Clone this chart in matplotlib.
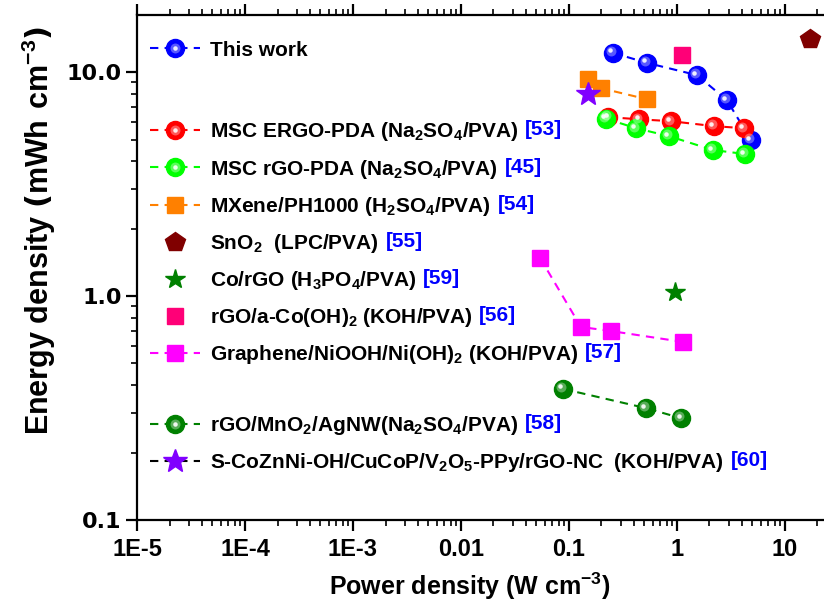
import matplotlib
matplotlib.use("Agg")
import matplotlib.pyplot as plt
from matplotlib.lines import Line2D
from matplotlib.legend_handler import HandlerTuple
from matplotlib.transforms import offset_copy

plt.rcParams['font.family'] = ['Liberation Sans', 'DejaVu Sans']
plt.rcParams['font.weight'] = 'bold'

# power density (W cm-3), energy density (mWh cm-3)
this_work_p = [0.255, 0.527, 1.53, 2.9, 4.84]
this_work_e = [12.2, 11.0, 9.7, 7.5, 4.97]

ergo_p = [0.23, 0.445, 0.88, 2.2, 4.17]
ergo_e = [6.3, 6.16, 6.04, 5.74, 5.62]

rgo_pda_p = [0.22, 0.417, 0.843, 2.15, 4.26]
rgo_pda_e = [6.2, 5.62, 5.18, 4.49, 4.31]

mxene_p = [0.15, 0.198, 0.527]
mxene_e = [9.3, 8.48, 7.57]

sno2_p = [17.0]
sno2_e = [14.0]

co_rgo_p = [0.955]
co_rgo_e = [1.04]

co_oh_p = [1.11]
co_oh_e = [11.9]

niooh_p = [0.054, 0.129, 0.245, 1.14]
niooh_e = [1.48, 0.728, 0.698, 0.624]

mno2_p = [0.088, 0.516, 1.09]
mno2_e = [0.385, 0.316, 0.285]

cozn_p = [0.15]
cozn_e = [7.98]

labels = [
    'This work',
    'MSC ERGO-PDA (Na$\\mathregular{_2}$SO$\\mathregular{_4}$/PVA)',
    'MSC rGO-PDA (Na$\\mathregular{_2}$SO$\\mathregular{_4}$/PVA)',
    'MXene/PH1000 (H$\\mathregular{_2}$SO$\\mathregular{_4}$/PVA)',
    'SnO$\\mathregular{_2}$  (LPC/PVA)',
    'Co/rGO (H$\\mathregular{_3}$PO$\\mathregular{_4}$/PVA)',
    'rGO/a-Co(OH)$\\mathregular{_2}$ (KOH/PVA)',
    'Graphene/NiOOH/Ni(OH)$\\mathregular{_2}$ (KOH/PVA)',
    'rGO/MnO$\\mathregular{_2}$/AgNW(Na$\\mathregular{_2}$SO$\\mathregular{_4}$/PVA)',
    'S-CoZnNi-OH/CuCoP/V$\\mathregular{_2}$O$\\mathregular{_5}$-PPy/rGO-NC  (KOH/PVA)',
]
refs = ['', '[53]', '[45]', '[54]', '[55]', '[59]', '[56]', '[57]', '[58]', '[60]']

xticks = [1e-5, 1e-4, 1e-3, 0.01, 0.1, 1, 10]
xticklabels = ['1E-5', '1E-4', '1E-3', '0.01', '0.1', '1', '10']
yticks = [0.1, 1, 10]
yticklabels = ['0.1', '1.0', '10.0']

W, H = 824, 602
fig = plt.figure(figsize=(W / 100, H / 100), dpi=100)
ax = fig.add_axes([137 / W, 82 / H, 699.5 / W, 505 / H])
ax.set_xscale('log')
ax.set_yscale('log')
ax.set_xlim(1e-5, 30)
ax.set_ylim(0.1, 18)

dash = (0, (4, 3))
lw = 1.5


def ball(x, y, color, ms=13):
    """Shaded sphere markers: base disc plus a highlight spot."""
    base, = ax.plot(x, y, linestyle=dash, lw=lw, color=color, marker='o',
                    ms=ms, mec=color, mfc=color, zorder=3)
    glow_tr = offset_copy(ax.transData, fig=fig, x=-1.2, y=1.2, units='points')
    ax.plot(x, y, linestyle='none', marker='o', ms=ms * 0.55, mfc='white',
            mec='none', alpha=0.35, transform=glow_tr, zorder=4)
    spot_tr = offset_copy(ax.transData, fig=fig, x=-1.8, y=1.8, units='points')
    ax.plot(x, y, linestyle='none', marker='o', ms=ms * 0.25, mfc='white',
            mec='none', alpha=0.9, transform=spot_tr, zorder=4)
    glow = Line2D([], [], linestyle='none', marker='o', ms=ms * 0.55,
                  mfc='white', mec='none', alpha=0.35)
    spot = Line2D([], [], linestyle='none', marker='o', ms=ms * 0.25,
                  mfc='white', mec='none', alpha=0.9)
    return (base, glow, spot)


h_this = ball(this_work_p, this_work_e, '#0000ff')
h_ergo = ball(ergo_p, ergo_e, '#ff0000')
h_rgo = ball(rgo_pda_p, rgo_pda_e, '#00ff00')
h_mx, = ax.plot(mxene_p, mxene_e, linestyle=dash, lw=lw, color='#ff8000',
                marker='s', ms=11.5, zorder=3)
h_sno, = ax.plot(sno2_p, sno2_e, linestyle='none', color='#800000',
                 marker='p', ms=15, zorder=3)
h_co, = ax.plot(co_rgo_p, co_rgo_e, linestyle='none', color='#008000',
                marker='*', ms=15, zorder=3)
h_cooh, = ax.plot(co_oh_p, co_oh_e, linestyle='none', color='#ff0077',
                  marker='s', ms=11.5, zorder=3)
h_ni, = ax.plot(niooh_p, niooh_e, linestyle=dash, lw=lw, color='#ff00ff',
                marker='s', ms=11.5, zorder=3)
h_mn = ball(mno2_p, mno2_e, '#008000')
h_cz, = ax.plot(cozn_p, cozn_e, linestyle=dash, lw=lw, color='black',
                marker='*', ms=18, mfc='#8000ff', mec='#8000ff', zorder=3)

blank = Line2D([], [], linestyle='none')
handles = [h_this, blank, h_ergo, h_rgo, h_mx, h_sno, h_co, h_cooh, h_ni,
           blank, h_mn, h_cz]
leg_labels = [labels[0], ' \n '] + labels[1:8] + [' '] + labels[8:]
leg_refs = [refs[0], ''] + refs[1:8] + [''] + refs[8:]

leg = ax.legend(handles, leg_labels, loc='upper left',
                bbox_to_anchor=(0.019, 0.949), frameon=False,
                prop={'family': 'Liberation Sans', 'weight': 'bold', 'size': 15},
                handlelength=2.4, handletextpad=0.45, labelspacing=0.68,
                borderpad=0, borderaxespad=0,
                handler_map={tuple: HandlerTuple(ndivide=1, pad=0)})
leg.set_zorder(5)
leg.get_texts()[1].set_fontsize(12.5)

# citation numbers in blue after each legend entry
for txt, ref in zip(leg.get_texts(), leg_refs):
    if ref:
        ax.annotate(ref, xy=(1, 1), xycoords=txt, xytext=(5, 0),
                    textcoords='offset points', va='top', ha='left',
                    color='#0000ff', fontsize=15, fontweight='bold',
                    family='Liberation Sans', zorder=6)

for side in ['left', 'bottom', 'top']:
    ax.spines[side].set_linewidth(1.6)
ax.spines['right'].set_visible(False)

ax.tick_params(which='major', direction='out', length=8, width=1.6,
               top=True, right=False)
ax.tick_params(which='minor', direction='out', length=4, width=1.2,
               top=True, right=False)

ax.set_xticks(xticks)
ax.set_xticklabels(xticklabels, family='Liberation Sans', fontweight='bold',
                   fontsize=17)
ax.set_yticks(yticks)
ax.set_yticklabels(yticklabels, family='DejaVu Sans', fontweight='bold',
                   fontsize=16)
ax.tick_params(axis='x', which='major', pad=5)
ax.tick_params(axis='y', which='major', pad=3)

ax.set_xlabel('Power density (W cm$\\mathregular{^{-3}}$)',
              family='Liberation Sans', fontweight='bold', fontsize=18)
ax.xaxis.set_label_coords((470 - 137) / 699.5, -0.1)
ax.set_ylabel('Energy density $\\left(\\mathregular{mWh\\ cm^{-3}}\\right)$',
              family='Liberation Sans', fontweight='bold', fontsize=22)
ax.yaxis.set_label_coords(-0.113, 0.574)

fig.canvas.draw()
fig.savefig('out.png', dpi=100)
